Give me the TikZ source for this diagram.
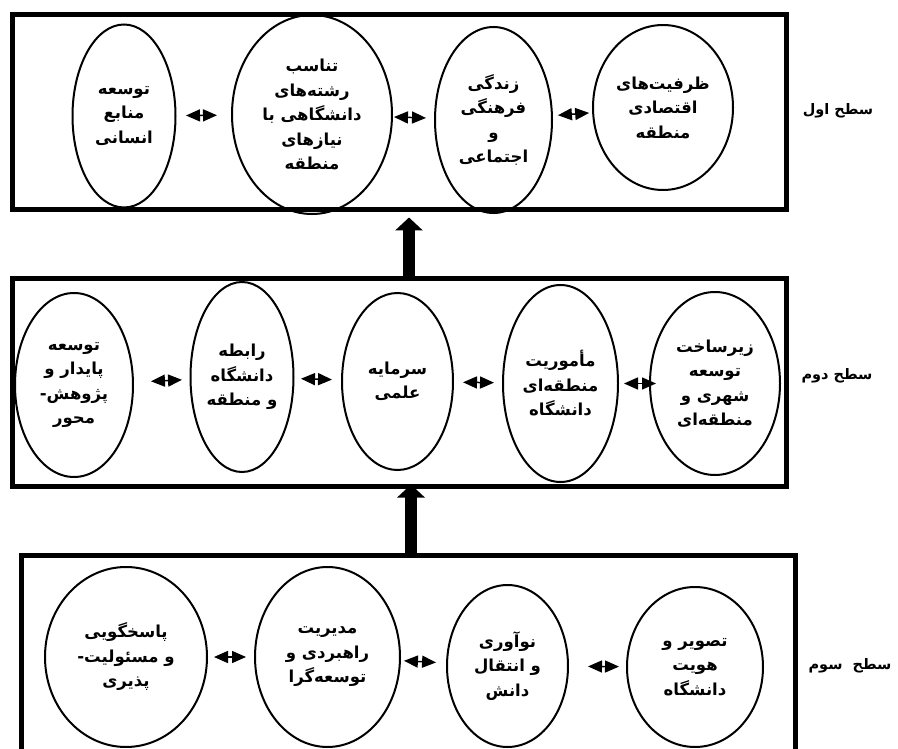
\documentclass[tikz,border=0pt]{standalone}
\usepackage{fontspec}
\usetikzlibrary{shapes.geometric,arrows.meta}
\newfontfamily\farsi[Script=Arabic]{DejaVu Sans}
\TeXXeTstate=1
\newcommand{\fatxt}[1]{\beginR#1\endR}
\tikzset{
  layerbox/.style={draw, line width=5pt, inner sep=0pt},
  factor/.style={ellipse, draw, line width=2pt, inner sep=0pt, align=center,
    font=\farsi\bfseries\fontsize{16.5}{24.5}\selectfont},
  lvlname/.style={font=\farsi\bfseries\fontsize{14.5}{16}\selectfont},
  link/.style={{Triangle[length=14pt,width=12pt]}-{Triangle[length=14pt,width=12pt]}, line width=1.5pt},
  upflow/.style={-{Triangle[length=13pt,width=27pt]}, line width=12pt}
}
\begin{document}
\begin{tikzpicture}[x=1pt, y=-1pt]
\useasboundingbox (0,0) rectangle (898,749);
\clip (0,0) rectangle (898,749);
\node[layerbox, minimum width=774pt, minimum height=195.5pt] (tier1) at (399,112.25) {};
\node[layerbox, minimum width=774pt, minimum height=208pt] (tier2) at (399,382) {};
\node[layerbox, minimum width=774pt, minimum height=245pt] (tier3) at (408,677.5) {};
\node[lvlname] (name1) at (838,111) {\fatxt{سطح اول}};
\node[lvlname] (name2) at (837,376) {\fatxt{سطح دوم}};
\node[lvlname] (name3) at (850,666) {\fatxt{سطح\ \ سوم}};
\node[factor, minimum width=103pt, minimum height=183pt] (A1) at (124,116) {\fatxt{توسعه}\\\fatxt{منابع}\\\fatxt{انسانی}};
\node[factor, minimum width=160pt, minimum height=199pt] (A2) at (312,114.5) {\fatxt{تناسب}\\\fatxt{رشته^^^^200cهای}\\\fatxt{دانشگاهی با}\\\fatxt{نیازهای}\\\fatxt{منطقه}};
\node[factor, minimum width=117pt, minimum height=186pt] (A3) at (493.5,120) {\fatxt{زندگی}\\\fatxt{فرهنگی}\\\fatxt{و}\\\fatxt{اجتماعی}};
\node[factor, minimum width=140pt, minimum height=165pt] (A4) at (663,107.5) {\fatxt{ظرفیت^^^^200cهای}\\\fatxt{اقتصادی}\\\fatxt{منطقه}};
\node[factor, minimum width=118pt, minimum height=184pt] (B1) at (74,385) {\fatxt{توسعه}\\\fatxt{پایدار و}\\\fatxt{پژوهش-}\\\fatxt{محور}};
\node[factor, minimum width=103pt, minimum height=190pt] (B2) at (242,377) {\fatxt{رابطه}\\\fatxt{دانشگاه}\\\fatxt{و منطقه}};
\node[factor, minimum width=111pt, minimum height=177pt] (B3) at (397.5,381.5) {\fatxt{سرمایه}\\\fatxt{علمی}};
\node[factor, minimum width=115pt, minimum height=197pt] (B4) at (560.5,383.5) {\fatxt{مأموریت}\\\fatxt{منطقه^^^^200cای}\\\fatxt{دانشگاه}};
\node[factor, minimum width=130pt, minimum height=183pt] (B5) at (715,383.5) {\fatxt{زیرساخت}\\\fatxt{توسعه}\\\fatxt{شهری و}\\\fatxt{منطقه^^^^200cای}};
\node[factor, minimum width=162pt, minimum height=180pt] (C1) at (126,657) {\fatxt{پاسخگویی}\\\fatxt{و مسئولیت-}\\\fatxt{پذیری}};
\node[factor, minimum width=145pt, minimum height=180pt] (C2) at (327.5,657) {\fatxt{مدیریت}\\\fatxt{راهبردی و}\\\fatxt{توسعه^^^^200cگرا}};
\node[factor, minimum width=121pt, minimum height=162pt] (C3) at (507.5,666) {\fatxt{نوآوری}\\\fatxt{و انتقال}\\\fatxt{دانش}};
\node[factor, minimum width=136pt, minimum height=160pt] (C4) at (695,667) {\fatxt{تصویر و}\\\fatxt{هویت}\\\fatxt{دانشگاه}};
\path[link]
(A1) edge[shorten <=9.5pt, shorten >=14pt] (A2)
(A2) edge[shorten <=1pt, shorten >=8pt] (A3)
(A3) edge[shorten <=5pt, shorten >=3pt] (A4)
(B1) edge[shorten <=17pt, shorten >=7.5pt] (B2)
(B2) edge[shorten <=6.5pt, shorten >=9pt] (B3)
(B3) edge[shorten <=9pt, shorten >=8pt] (B4)
(B4) edge[shorten <=5pt, shorten >=-7pt] (B5)
(C1) edge[shorten <=6pt, shorten >=8pt] (C2)
(C2) edge[shorten <=3pt, shorten >=10pt] (C3)
(C3) edge[shorten <=19pt, shorten >=7pt] (C4);
\draw[upflow, shorten >=5pt] ([xshift=10pt]tier2.north) -- ([xshift=10pt]tier1.south);
\draw[upflow, shorten >=-4pt] ([xshift=3pt]tier3.north) -- ([xshift=12pt]tier2.south);
\end{tikzpicture}
\end{document}
